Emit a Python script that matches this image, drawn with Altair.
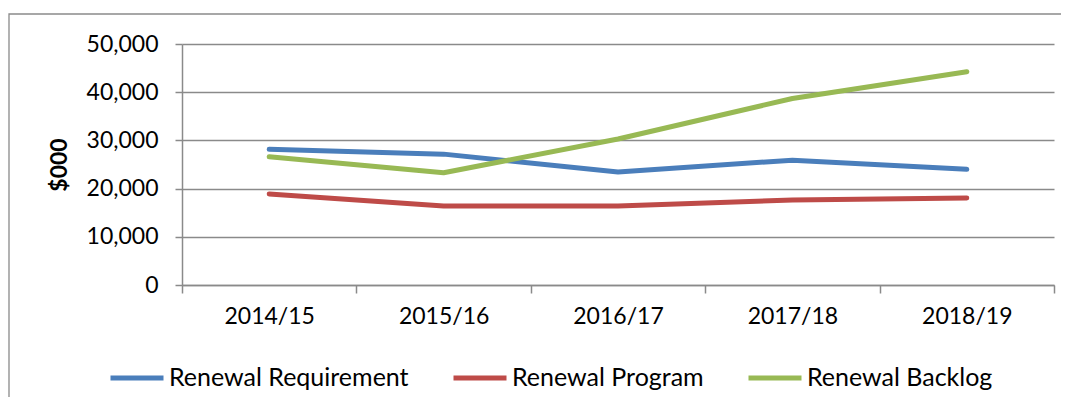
import altair as alt
import pandas as pd

years = ["2014/15", "2015/16", "2016/17", "2017/18", "2018/19"]
series_names = ["Renewal Requirement", "Renewal Program", "Renewal Backlog"]
requirement = [28150, 27150, 23450, 25900, 24000]
program = [18900, 16400, 16400, 17650, 18050]
backlog = [26600, 23300, 30300, 38700, 44250]
colors = ["#4A7EBB", "#BE4B48", "#98B954"]
y_ticks = [0, 10000, 20000, 30000, 40000, 50000]

rows = []
for name, vals in zip(series_names, [requirement, program, backlog]):
    for i, (yr, v) in enumerate(zip(years, vals)):
        rows.append({"Year": yr, "Series": name, "Value": v, "order": i})
df = pd.DataFrame(rows)

FONT = "Lato"
GRID = "#8a8a8a"

frame = alt.Chart(pd.DataFrame({"a": [0]})).mark_rect(
    fill="white", fillOpacity=0, stroke=GRID, strokeWidth=1.3
).encode(
    x=alt.value(-173), x2=alt.value(920), y=alt.value(-30), y2=alt.value(420)
)

lines = alt.Chart(df).mark_line(strokeWidth=5, strokeCap="round", strokeJoin="round").encode(
    x=alt.X("Year:N", sort=years,
            scale=alt.Scale(type="band", paddingInner=0, paddingOuter=0),
            axis=alt.Axis(title=None, labelAngle=0, tickBand="extent", tickSize=8,
                          labelPadding=12, labelFontSize=23, labelFont=FONT,
                          labelColor="black", domainColor=GRID, tickColor=GRID,
                          domainWidth=1.5, tickWidth=1.5, grid=False)),
    y=alt.Y("Value:Q", scale=alt.Scale(domain=[0, 50000], nice=False),
            axis=alt.Axis(title="$000", values=y_ticks, format=",d", tickSize=7,
                          labelPadding=17, labelFontSize=23, labelFont=FONT,
                          labelColor="black", labelBaseline="middle",
                          titleFont=FONT, titleFontSize=23, titleFontWeight="bold",
                          titleColor="black", titleX=-123, titleY=120.5,
                          titleAngle=270, titleAlign="center", titleBaseline="middle",
                          grid=True, gridColor=GRID, gridWidth=1.5,
                          domainColor=GRID, tickColor=GRID, domainWidth=1.5, tickWidth=1.5)),
    color=alt.Color("Series:N", sort=series_names,
                    scale=alt.Scale(domain=series_names, range=colors),
                    legend=alt.Legend(title=None, orient="none", direction="horizontal",
                                      legendX=-74, legendY=305, symbolType="stroke",
                                      symbolSize=2809, symbolStrokeWidth=5,
                                      labelFont=FONT, labelFontSize=25, labelColor="black",
                                      labelLimit=0, labelOffset=3, columnPadding=34)),
    order="order:O",
)

chart = alt.layer(frame, lines).properties(
    width=872, height=241,
    autosize=alt.AutoSizeParams(type="none"),
    padding={"left": 174, "top": 36, "right": 7, "bottom": 112},
).configure_view(stroke=None)

chart.save("out.html", embed_options={"renderer": "svg", "actions": False})
